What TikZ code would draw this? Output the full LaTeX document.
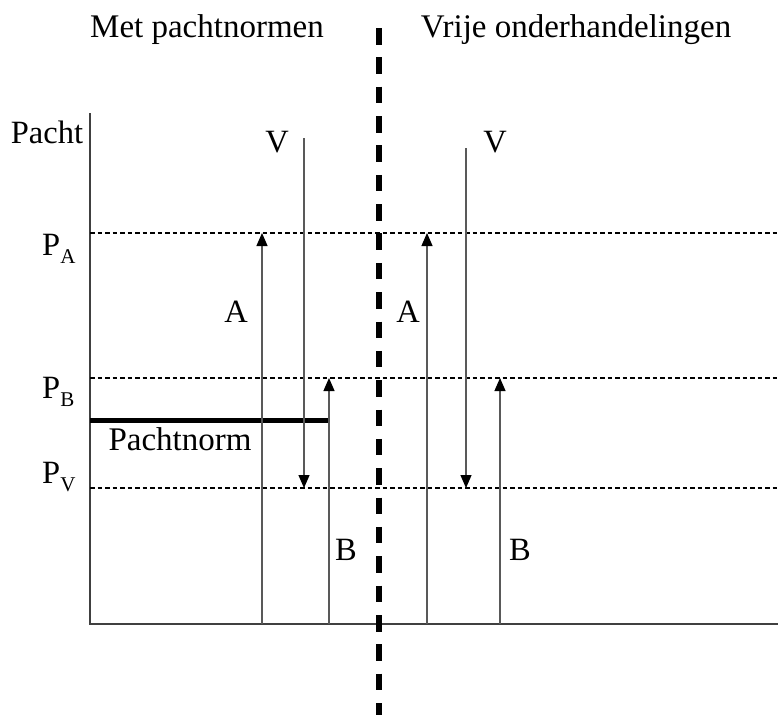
\documentclass[tikz,border=0pt]{standalone}
\usepackage{fontspec}
\setmainfont{Liberation Serif}
\usetikzlibrary{arrows.meta}
\newcommand{\subtxt}[1]{{\fontsize{21}{21}\selectfont\raisebox{-8pt}{#1}}}
\tikzset{
  lbl/.style={inner sep=0pt, anchor=base, font=\fontsize{32.5}{36}\selectfont},
  head/.style={inner sep=0pt, anchor=base, font=\fontsize{33}{38}\selectfont},
  axisline/.style={draw=black!75, line width=1.5pt},
  arr/.style={draw=black!65, line width=1.2pt, -{Triangle[length=13pt,width=11pt,color=black]}},
  level/.style={draw=black, line width=2.2pt, dash pattern=on 4.5pt off 3pt},
  thinlevel/.style={draw=black, line width=1.1pt, dash pattern=on 4.5pt off 3pt},
  divider/.style={draw=black, line width=6pt, dash pattern=on 16.5pt off 12.85pt},
  normline/.style={draw=black, line width=4.5pt}
}
\begin{document}
\begin{tikzpicture}[x=1pt, y=-1pt]
\useasboundingbox (0,0) rectangle (778,715);

% axes
\coordinate (ytop) at (90,113);
\coordinate (orig) at (90,624);
\coordinate (xend) at (778,624);
\draw[axisline] (ytop) -- (orig) -- (xend);

% price levels
\coordinate (pa0) at (90,233);  \coordinate (pa1) at (778,233);
\coordinate (pb0) at (90,378);  \coordinate (pb1) at (778,378);
\coordinate (pv0) at (90,488);  \coordinate (pv1) at (778,488);
\draw[level] (pa0) -- (pa1);
\draw[thinlevel] (pb0) -- (pb1);
\draw[level] (pv0) -- (pv1);

% divider between the two regimes
\coordinate (dtop) at (378.5,28);
\coordinate (dbot) at (378.5,715);
\draw[divider] (dtop) -- (dbot);

% pachtnorm ceiling
\coordinate (n0) at (90,420.5);
\coordinate (n1) at (329,420.5);
\draw[normline] (n0) -- (n1);

% left-hand arrows
\coordinate (aL0) at (262,624); \coordinate (aL1) at (262,233);
\coordinate (vL0) at (304,138); \coordinate (vL1) at (304,488);
\coordinate (bL0) at (329,624); \coordinate (bL1) at (329,378);
\draw[arr] (aL0) -- (aL1);
\draw[arr] (vL0) -- (vL1);
\draw[arr] (bL0) -- (bL1);

% right-hand arrows
\coordinate (aR0) at (427,624); \coordinate (aR1) at (427,233);
\coordinate (vR0) at (466,148); \coordinate (vR1) at (466,488);
\coordinate (bR0) at (500,624); \coordinate (bR1) at (500,378);
\draw[arr] (aR0) -- (aR1);
\draw[arr] (vR0) -- (vR1);
\draw[arr] (bR0) -- (bR1);

% headings
\node[head] (hleft) at (207,37) {Met pachtnormen};
\node[head] (hright) at (576,37) {Vrije onderhandelingen};

% axis labels
\node[lbl] (pacht) at (47,143) {Pacht};
\node[lbl, anchor=base west] (pA) at (42,255) {P\subtxt{A}};
\node[lbl, anchor=base west] (pB) at (42,398) {P\subtxt{B}};
\node[lbl, anchor=base west] (pV) at (42,483) {P\subtxt{V}};
\node[head] (norm) at (180,450) {Pachtnorm};

% arrow labels
\node[lbl] (labVL) at (277,152) {V};
\node[lbl] (labAL) at (236,322) {A};
\node[lbl] (labBL) at (346,560) {B};
\node[lbl] (labVR) at (495,152) {V};
\node[lbl] (labAR) at (408,322) {A};
\node[lbl] (labBR) at (520,560) {B};
\end{tikzpicture}
\end{document}
